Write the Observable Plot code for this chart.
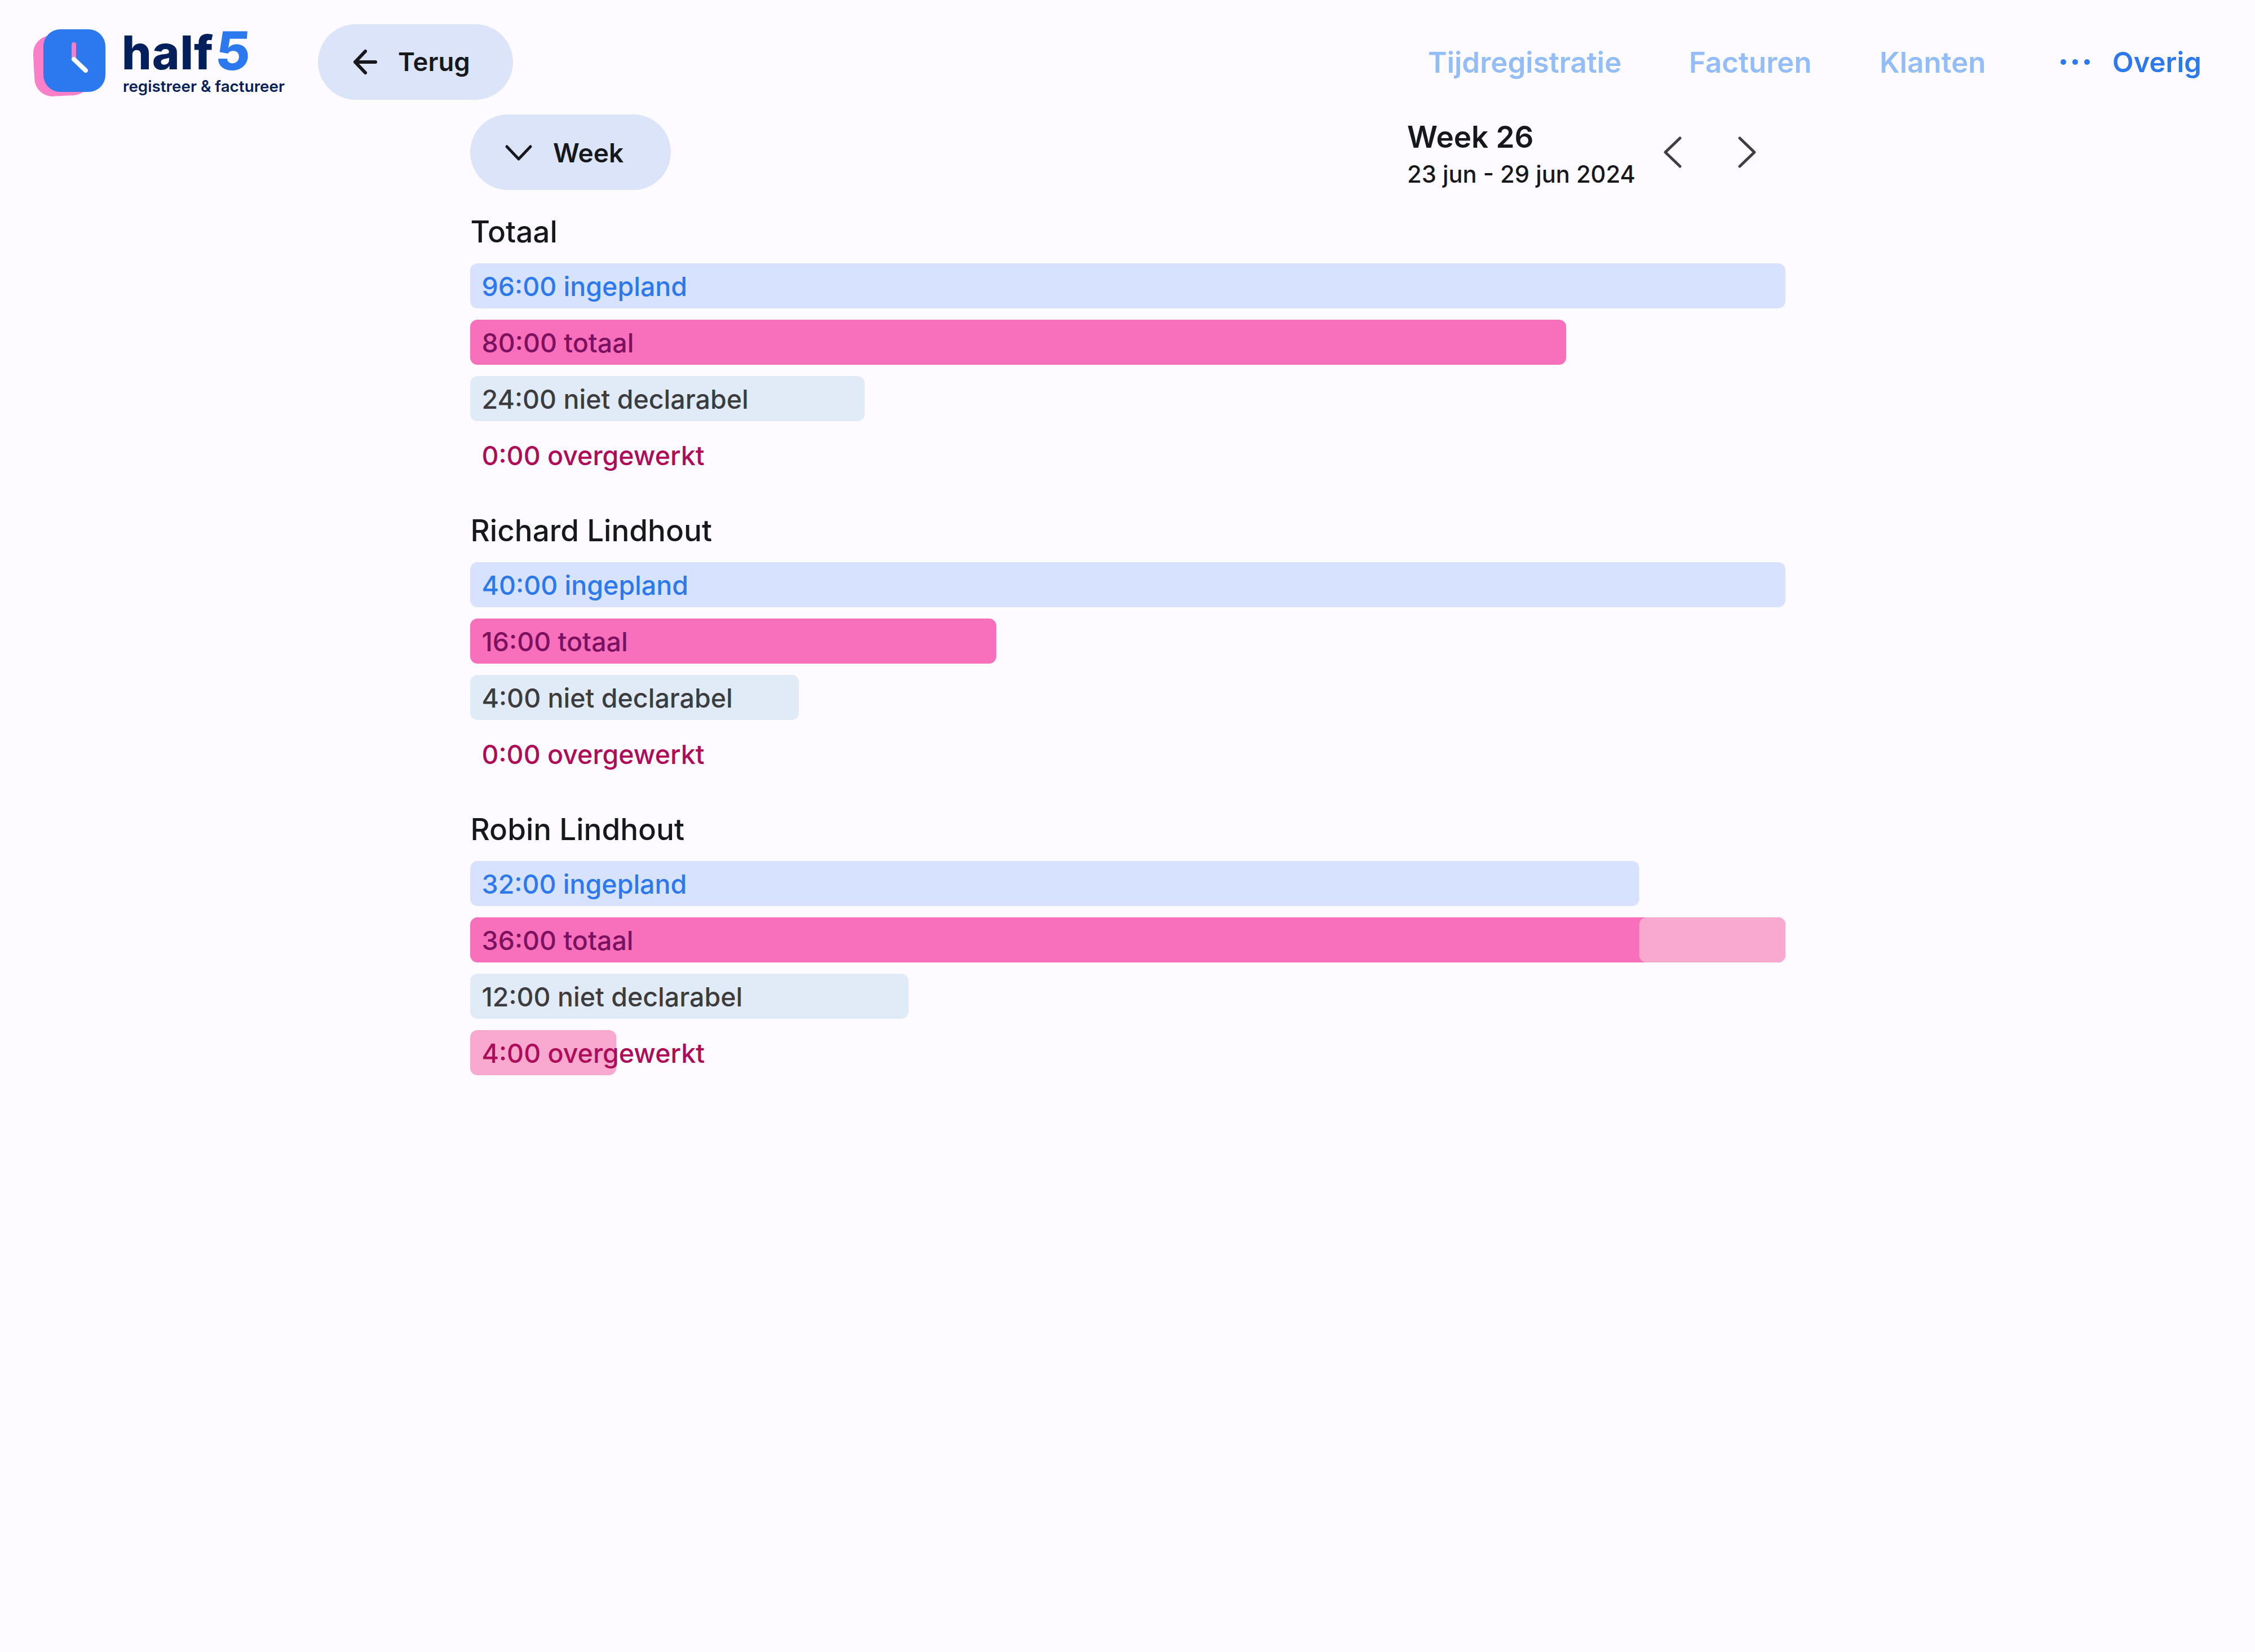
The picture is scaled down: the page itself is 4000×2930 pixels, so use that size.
<!DOCTYPE html>
<html lang="nl">
<head>
<meta charset="utf-8">
<title>half5 week 26</title>
<script src="https://cdn.jsdelivr.net/npm/d3@7"></script>
<script src="https://cdn.jsdelivr.net/npm/@observablehq/plot@0.6"></script>
<style>
  html, body { margin: 0; padding: 0; background: #fdfbff; width: 4000px; height: 2930px; overflow: hidden; }
  body { position: relative; font-family: Inter, "Noto Sans", sans-serif; color: #17181c; }
  .t { position: absolute; white-space: nowrap; line-height: 1; transform: translateY(-50%); }
  .pill { position: absolute; background: #dbe4f9; border-radius: 67px; }
  .nav { font-size: 51px; font-weight: 600; color: #93bdf9; top: 110px; }
  svg.i { position: absolute; overflow: visible; }
  #chart { position: absolute; left: 834px; top: 357px; }
</style>
</head>
<body>
  <svg class="i" style="left:0;top:0" width="240" height="200">
    <rect x="60" y="62" width="100" height="108" rx="32" fill="#fb7fc8" transform="rotate(-3 110 116)"/>
    <rect x="77" y="52" width="110" height="111" rx="30" fill="#2b78ef"/>
    <path d="M131 79V105" stroke="#fb7fc8" stroke-width="8" stroke-linecap="round"/>
    <path d="M131 105L152 125" stroke="#fff" stroke-width="8" stroke-linecap="round"/>
  </svg>
  <div class="t" style="left:216px;top:93px;font-size:83px;font-weight:800;color:#04205c;letter-spacing:1px">half</div>
  <div class="t" style="left:383px;top:90px;font-size:94px;font-weight:800;color:#2b78ef;transform:translateY(-50%) skewX(-4deg)">5</div>
  <div class="t" style="left:218px;top:154px;font-size:27.8px;font-weight:600;color:#04205c">registreer &amp; factureer</div>

  <div class="pill" style="left:564px;top:43px;width:346px;height:134px"></div>
  <svg class="i" style="left:628px;top:88px" width="40" height="44" fill="none" stroke="#17181c" stroke-width="6" stroke-linecap="round" stroke-linejoin="round">
    <path d="M20 3L2 22L20 41M2 22H38"/>
  </svg>
  <div class="t" style="left:706px;top:110px;font-size:45.5px;font-weight:600">Terug</div>

  <div class="pill" style="left:834px;top:203px;width:356px;height:134px"></div>
  <svg class="i" style="left:897px;top:258px" width="46" height="26" fill="none" stroke="#17181c" stroke-width="5" stroke-linecap="round" stroke-linejoin="round">
    <path d="M2 2L23 24L44 2"/>
  </svg>
  <div class="t" style="left:981px;top:271px;font-size:46px;font-weight:600">Week</div>

  <div class="t nav" style="left:2533px">Tijdregistratie</div>
  <div class="t nav" style="left:2996px">Facturen</div>
  <div class="t nav" style="left:3334px">Klanten</div>
  <svg class="i" style="left:3655px;top:104px" width="52" height="12" fill="#2b78ef">
    <circle cx="5" cy="6" r="5"/><circle cx="26" cy="6" r="5"/><circle cx="47" cy="6" r="5"/>
  </svg>
  <div class="t nav" style="left:3747px;color:#2b78ef;font-size:49px">Overig</div>

  <div class="t" style="left:2496px;top:243px;font-size:53px;font-weight:600">Week 26</div>
  <div class="t" style="left:2496px;top:310px;font-size:41.7px;font-weight:500">23 jun - 29 jun 2024</div>
  <svg class="i" style="left:2952px;top:243px" width="162" height="54" fill="none" stroke="#3f3f42" stroke-width="5" stroke-linecap="round" stroke-linejoin="round">
    <path d="M28 2L2 27L28 52M134 2L160 27L134 52"/>
  </svg>

  <div id="chart"></div>

<script>
const persons = ["Totaal", "Richard Lindhout", "Robin Lindhout"];
const rowNames = ["ingepland", "totaal", "niet declarabel", "overgewerkt"];
const ingepland = [96, 40, 32];
const totaal = [80, 16, 36];
const nietDeclarabel = [24, 4, 12];
const overgewerkt = [0, 0, 4];

const barFill = {"ingepland": "#d7e3fe", "totaal": "#f86fbb", "niet declarabel": "#e1ebf8", "overgewerkt": "#f9a8d0"};
const textFill = {"ingepland": "#2b78ef", "totaal": "#7b125f", "niet declarabel": "#3c3c3e", "overgewerkt": "#ae0c58"};

// Every person's bars share a scale of 0..1: planned and total relative to the larger of
// the two, the non-billable and overtime hours relative to the total.
const rows = persons.flatMap((person, i) => {
  const base = Math.max(ingepland[i], totaal[i]);
  return [
    {person, row: "ingepland", hours: ingepland[i], share: ingepland[i] / base},
    {person, row: "totaal", hours: totaal[i], share: totaal[i] / base},
    {person, row: "niet declarabel", hours: nietDeclarabel[i], share: nietDeclarabel[i] / totaal[i]},
    {person, row: "overgewerkt", hours: overgewerkt[i], share: overgewerkt[i] / totaal[i]}
  ];
});
const overflow = persons.map((person, i) => ({person, row: "totaal", from: ingepland[i] / totaal[i], to: 1}))
  .filter(d => d.from < 1);

const font = 'Inter, "Noto Sans", sans-serif';
const chart = Plot.plot({
  width: 2333,
  height: 1560,
  marginTop: 100,
  marginBottom: 0,
  marginLeft: 0,
  marginRight: 0,
  style: {background: "transparent", overflow: "visible", fontFamily: font},
  color: {type: "identity"},
  x: {domain: [0, 1], axis: null},
  y: {domain: rowNames, paddingInner: 0.2, paddingOuter: 0.1, axis: null},
  fy: {domain: persons, paddingInner: 130 / 530, paddingOuter: 0, axis: null},
  marks: [
    Plot.barX(rows.filter(d => d.share > 0), {
      x1: 0, x2: "share", y: "row", fy: "person",
      fill: d => barFill[d.row], rx: 13
    }),
    Plot.barX(overflow, {
      x1: "from", x2: "to", y: "row", fy: "person",
      fill: "#f9a8d0", rx: 13
    }),
    Plot.text(rows, {
      y: "row", fy: "person", frameAnchor: "left", dx: 20, dy: 2.5,
      text: d => `${d.hours}:00 ${d.row}`,
      fill: d => textFill[d.row],
      fontSize: 46.5, fontWeight: 500, textAnchor: "start"
    }),
    Plot.text(persons, {
      fy: d => d, text: d => d, frameAnchor: "top-left", lineAnchor: "middle",
      dy: -44, fontSize: 53, fontWeight: 500, fill: "#17181c", textAnchor: "start"
    })
  ]
});
document.getElementById("chart").append(chart);
</script>
</body>
</html>
